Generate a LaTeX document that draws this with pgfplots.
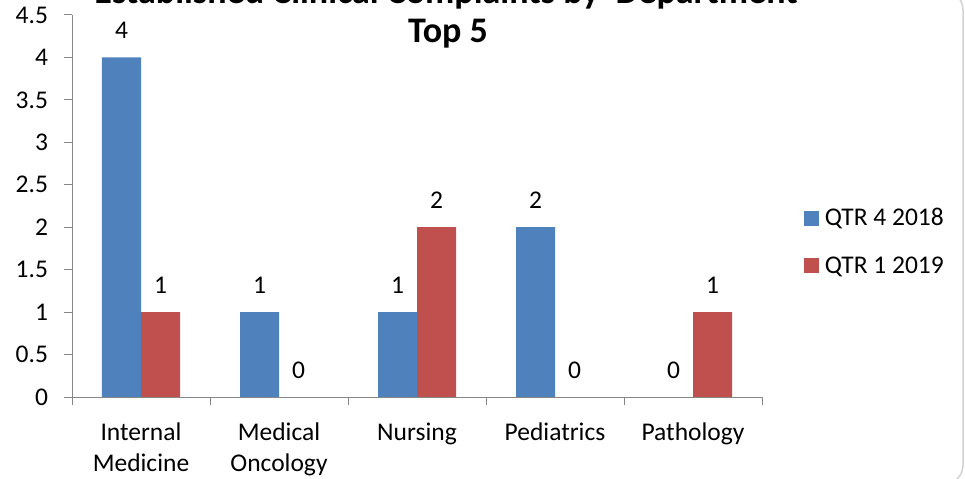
\documentclass[border=0pt]{standalone}
\usepackage{pgfplots}
\pgfplotsset{compat=1.18}
\usepackage{fontspec}
\setmainfont{Carlito}
\definecolor{qblue}{HTML}{4F81BD}
\definecolor{qred}{HTML}{C0504D}
\definecolor{axgray}{HTML}{868686}
\begin{document}
\begin{tikzpicture}[font=\fontsize{25.5bp}{31bp}\selectfont]
\useasboundingbox (0,0) rectangle (965bp,479bp);
\draw[gray!35, line width=1.5bp, rounded corners=20bp] (-60bp,-6bp) rectangle (963bp,489bp);
\node[anchor=base, font=\fontsize{36bp}{44bp}\selectfont\bfseries] at (446bp,475bp) {Established Clinical Complaints by\ \ Department};
\node[anchor=base, font=\fontsize{36bp}{44bp}\selectfont\bfseries] at (448bp,436bp) {Top 5};
\begin{axis}[
  at={(72bp,82bp)}, anchor=south west,
  scale only axis, width=690bp, height=382bp,
  xmin=-0.5, xmax=4.5, ymin=0, ymax=4.5,
  ybar=0pt, bar width=39bp,
  axis lines*=left,
  axis line style={axgray, line width=1bp},
  every tick/.style={axgray, line width=1bp},
  tick align=outside,
  major tick length=7.5bp,
  ytick={0,0.5,1,1.5,2,2.5,3,3.5,4,4.5},
  yticklabel style={/pgf/number format/fixed, font=\fontsize{25.5bp}{31bp}\selectfont, xshift=-13bp},
  /pgf/number format/assume math mode=true,
  xtick={-0.5,0.5,1.5,2.5,3.5,4.5},
  xticklabels={},
  extra x ticks={0,1,2,3,4},
  extra x tick labels={{Internal\\Medicine},{Medical\\Oncology},{Nursing},{Pediatrics},{Pathology}},
  extra x tick style={major tick length=0pt, tick label style={align=center, font=\fontsize{25.5bp}{31bp}\selectfont, yshift=-22bp}},
  nodes near coords,
  every node near coord/.append style={anchor=center, yshift=27bp, font=\fontsize{25.5bp}{31bp}\selectfont, text=black},
  legend style={at={(1.056,0.407)}, anchor=west, draw=none, fill=none,
    font=\fontsize{25.5bp}{31bp}\selectfont, cells={anchor=west}, row sep=25bp},
  legend image code/.code={\fill[#1] (0bp,-7.5bp) rectangle (15bp,7.5bp); \path (19bp,0bp);},
]
\addplot[fill=qblue, draw=none] coordinates {(0,4) (1,1) (2,1) (3,2) (4,0)};
\addplot[fill=qred, draw=none] coordinates {(0,1) (1,0) (2,2) (3,0) (4,1)};
\legend{QTR 4 2018, QTR 1 2019}
\end{axis}
\end{tikzpicture}
\end{document}
